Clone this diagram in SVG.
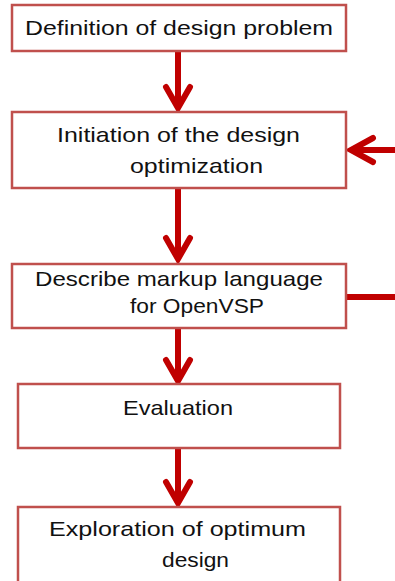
<svg xmlns="http://www.w3.org/2000/svg" width="395" height="581" viewBox="0 0 395 581">
  <style>
    .box { fill: #ffffff; stroke: #c0504d; stroke-width: 2.5; }
    .lbl { font-family: "Liberation Sans", Arial, sans-serif; font-size: 21px; fill: #111111; }
    .wire { fill: none; stroke: #c00000; stroke-width: 6; }
    .head { fill: none; stroke: #c00000; stroke-width: 6; stroke-linecap: round; stroke-linejoin: miter; }
  </style>
  <rect width="395" height="581" fill="#ffffff"/>

  <g id="connectors">
    <!-- vertical flow arrows -->
    <line class="wire" x1="178" y1="51" x2="178" y2="108"/>
    <polyline class="head" points="166,87 178,108 190,87"/>
    <line class="wire" x1="178" y1="188" x2="178" y2="259"/>
    <polyline class="head" points="166,238 178,259 190,238"/>
    <line class="wire" x1="178" y1="328" x2="178" y2="381"/>
    <polyline class="head" points="166,360 178,381 190,360"/>
    <line class="wire" x1="178" y1="448" x2="178" y2="503"/>
    <polyline class="head" points="166,482 178,503 190,482"/>
    <!-- feedback arrow into the initiation step -->
    <line class="wire" x1="395" y1="150" x2="351" y2="150"/>
    <polyline class="head" points="373,138 351,150 373,162"/>
    <!-- line leaving the markup step -->
    <line class="wire" x1="346" y1="297" x2="395" y2="297"/>
  </g>

  <g id="n-definition">
    <rect class="box" x="12" y="5" width="334" height="46"/>
    <text class="lbl" x="25" y="35" textLength="308" lengthAdjust="spacingAndGlyphs">Definition of design problem</text>
  </g>

  <g id="n-initiation">
    <rect class="box" x="12" y="112" width="334" height="76"/>
    <text class="lbl" x="57" y="142" textLength="243" lengthAdjust="spacingAndGlyphs">Initiation of the design</text>
    <text class="lbl" x="130" y="173" textLength="133" lengthAdjust="spacingAndGlyphs">optimization</text>
  </g>

  <g id="n-markup">
    <rect class="box" x="12" y="264" width="334" height="64"/>
    <text class="lbl" x="35" y="286" textLength="288" lengthAdjust="spacingAndGlyphs">Describe markup language</text>
    <text class="lbl" x="130" y="313" textLength="134" lengthAdjust="spacingAndGlyphs">for OpenVSP</text>
  </g>

  <g id="n-evaluation">
    <rect class="box" x="18" y="384" width="322" height="64"/>
    <text class="lbl" x="123" y="415" textLength="110" lengthAdjust="spacingAndGlyphs">Evaluation</text>
  </g>

  <g id="n-exploration">
    <rect class="box" x="18" y="507" width="322" height="90"/>
    <text class="lbl" x="49" y="536" textLength="257" lengthAdjust="spacingAndGlyphs">Exploration of optimum</text>
    <text class="lbl" x="162" y="567" textLength="67" lengthAdjust="spacingAndGlyphs">design</text>
  </g>
</svg>
